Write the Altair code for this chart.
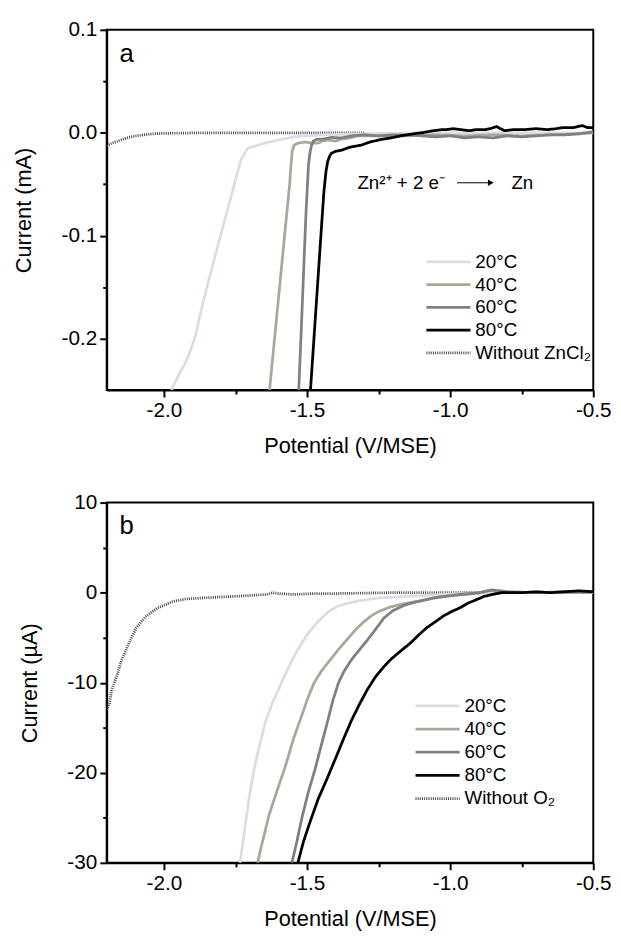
import altair as alt
import pandas as pd

FONT = "Liberation Sans, Arial, Helvetica, sans-serif"

KEYS = ["20°C", "40°C", "60°C", "80°C", "without"]
COLORS = ["#e2d8e6", "#a8a897", "#808080", "#000000", "#444444"]
DASHES = [[1, 0], [1, 0], [1, 0], [1, 0], [1, 1.2]]
WIDTHS = [2.8, 2.8, 2.8, 2.8, 1]
LABELS_A = ["20°C", "40°C", "60°C", "80°C", "Without ZnCl₂"]
LABELS_B = ["20°C", "40°C", "60°C", "80°C", "Without O₂"]

# ---------------- Panel a (mA) ----------------
a_20_x = [-1.974, -1.95, -1.924, -1.905, -1.890, -1.867, -1.85, -1.832, -1.81, -1.79, -1.763, -1.745,
          -1.729, -1.707, -1.67, -1.648, -1.60, -1.545, -1.45, -1.3, -1.1, -0.9, -0.7, -0.5]
a_20_y = [-0.25, -0.236, -0.223, -0.21, -0.197, -0.169, -0.15, -0.131, -0.108, -0.087, -0.06, -0.04,
          -0.025, -0.015, -0.012, -0.010, -0.007, -0.004, -0.002, -0.001, 0.000, 0.000, 0.000, 0.000]

a_40_x = [-1.631, -1.617, -1.603, -1.589, -1.575, -1.561, -1.556, -1.552, -1.545, -1.531, -1.507,
          -1.485, -1.462, -1.445, -1.428, -1.40, -1.379, -1.35, -1.324, -1.25, -1.15, -1.05, -0.95,
          -0.85, -0.75, -0.65, -0.55, -0.5]
a_40_y = [-0.25, -0.21, -0.17, -0.13, -0.09, -0.051, -0.031, -0.018, -0.012, -0.010, -0.009,
          -0.010, -0.010, -0.008, -0.007, -0.008, -0.006, -0.005, -0.003, -0.003, -0.003, -0.002, -0.003,
          -0.002, -0.003, -0.002, -0.001, 0.000]

a_60_x = [-1.529, -1.520, -1.512, -1.504, -1.495, -1.489, -1.484, -1.478, -1.467, -1.44, -1.415,
          -1.38, -1.346, -1.30, -1.25, -1.2, -1.15, -1.1, -1.05, -1.0, -0.95, -0.9, -0.85, -0.8, -0.75,
          -0.7, -0.65, -0.6, -0.55, -0.5]
a_60_y = [-0.25, -0.19, -0.135, -0.08, -0.031, -0.018, -0.012, -0.008, -0.0065, -0.006, -0.0045,
          -0.005, -0.003, -0.002, -0.003, -0.002, -0.002, -0.003, -0.004, -0.003, -0.005, -0.004, -0.005,
          -0.003, -0.004, -0.003, -0.002, -0.002, -0.001, 0.001]

a_80_x = [-1.488, -1.480, -1.472, -1.464, -1.456, -1.448, -1.441, -1.434, -1.428, -1.42, -1.415,
          -1.40, -1.38, -1.35, -1.311, -1.28, -1.242, -1.207, -1.173, -1.128, -1.10, -1.059, -1.03,
          -1.014, -0.99, -0.96, -0.935, -0.91, -0.879, -0.86, -0.838, -0.81, -0.78, -0.741, -0.70,
          -0.66, -0.63, -0.607, -0.57, -0.538, -0.52, -0.5]
a_80_y = [-0.25, -0.217, -0.184, -0.151, -0.118, -0.085, -0.057, -0.038, -0.028, -0.022, -0.020,
          -0.018, -0.017, -0.014, -0.012, -0.009, -0.0065, -0.005, -0.003, -0.001, 0.000, 0.002, 0.003,
          0.003, 0.004, 0.003, 0.002, 0.003, 0.003, 0.004, 0.006, 0.002, 0.003, 0.003, 0.004, 0.003,
          0.004, 0.005, 0.005, 0.007, 0.005, 0.005]

a_wo_x = [-2.2, -2.18, -2.155, -2.13, -2.097, -2.07, -2.039, -2.0, -1.95, -1.9, -1.8, -1.7, -1.6,
          -1.5, -1.4, -1.3]
a_wo_y = [-0.0125, -0.010, -0.0075, -0.005, -0.003, -0.002, -0.001, -0.0006, -0.0003, -0.0002,
          -0.0001, 0.0, 0.0, 0.0, 0.0, 0.0]

# ---------------- Panel b (µA) ----------------
b_20_x = [-1.734, -1.72, -1.703, -1.685, -1.665, -1.645, -1.622, -1.60, -1.58, -1.56, -1.541, -1.52,
          -1.496, -1.47, -1.449, -1.42, -1.393, -1.36, -1.334, -1.30, -1.255, -1.2, -1.139, -1.08,
          -1.024, -0.95, -0.85, -0.75, -0.65, -0.5]
b_20_y = [-30, -26.8, -22.9, -19.6, -16.8, -14.3, -12.3, -10.8, -9.3, -8.0, -6.8, -5.7, -4.5, -3.5,
          -2.8, -2.0, -1.5, -1.2, -1.0, -0.8, -0.6, -0.5, -0.4, -0.3, -0.2, -0.1, 0.0, 0.0, 0.0, 0.0]

b_40_x = [-1.673, -1.656, -1.633, -1.605, -1.576, -1.547, -1.518, -1.495, -1.475, -1.45, -1.42,
          -1.39, -1.36, -1.33, -1.30, -1.277, -1.25, -1.21, -1.173, -1.105, -1.06, -1.024, -0.945,
          -0.9, -0.86, -0.84, -0.75, -0.65, -0.55, -0.5]
b_40_y = [-30, -27.7, -24.7, -22.0, -19.3, -16.2, -13.6, -11.5, -10.0, -8.7, -7.5, -6.3, -5.2, -4.1,
          -3.2, -2.6, -2.1, -1.6, -1.3, -0.9, -0.6, -0.4, -0.2, -0.05, 0.3, 0.1, 0.0, 0.0, 0.0, 0.0]

b_60_x = [-1.553, -1.536, -1.518, -1.496, -1.472, -1.449, -1.43, -1.41, -1.39, -1.372, -1.35,
          -1.334, -1.30, -1.266, -1.231, -1.20, -1.16, -1.128, -1.059, -0.967, -0.898, -0.852, -0.8,
          -0.7, -0.6, -0.5]
b_60_y = [-30, -27.7, -25.0, -22.2, -19.6, -16.8, -14.5, -12.0, -10.0, -8.8, -7.7, -7.0, -5.7, -4.3,
          -2.8, -2.0, -1.4, -1.1, -0.6, -0.2, 0.0, 0.3, 0.1, 0.0, 0.1, 0.1]

b_80_x = [-1.532, -1.513, -1.49, -1.461, -1.432, -1.403, -1.372, -1.345, -1.317, -1.29, -1.262,
          -1.234, -1.207, -1.17, -1.139, -1.11, -1.082, -1.05, -1.024, -0.995, -0.967, -0.94, -0.91,
          -0.88, -0.852, -0.82, -0.75, -0.7, -0.65, -0.6, -0.55, -0.5]
b_80_y = [-30, -27.7, -25.5, -22.9, -20.8, -18.6, -16.2, -14.2, -12.4, -10.8, -9.4, -8.3, -7.4, -6.4,
          -5.6, -4.7, -3.9, -3.2, -2.6, -2.1, -1.7, -1.2, -0.8, -0.4, -0.2, 0.0, 0.0, 0.1, 0.0, 0.1,
          0.2, 0.1]

b_wo_x = [-2.2, -2.19, -2.183, -2.166, -2.148, -2.125, -2.097, -2.062, -2.022, -1.97, -1.924, -1.87,
          -1.81, -1.75, -1.694, -1.64, -1.62, -1.60, -1.55, -1.476, -1.4, -1.3, -1.2, -1.1, -1.0,
          -0.9, -0.85]
b_wo_y = [-13.0, -12.3, -10.8, -9.4, -7.5, -5.8, -3.9, -2.6, -1.7, -1.0, -0.7, -0.6, -0.5, -0.4,
          -0.3, -0.2, 0.0, -0.1, -0.2, -0.1, -0.1, -0.05, 0.0, 0.0, 0.0, 0.0, 0.0]

X_DOMAIN = [-2.2, -0.5]
YA_DOMAIN = [-0.25, 0.1]
YB_DOMAIN = [-30, 10]
X_TICKS = [-2.0, -1.75, -1.5, -1.25, -1.0, -0.75, -0.5]
YA_TICKS = [-0.2, -0.15, -0.1, -0.05, 0.0, 0.05, 0.1]
YB_TICKS = [-30, -25, -20, -15, -10, -5, 0, 5, 10]

color_scale = alt.Scale(domain=KEYS, range=COLORS)
dash_scale = alt.Scale(domain=KEYS, range=DASHES)
width_scale = alt.Scale(domain=KEYS, range=WIDTHS)

MINUS_FIX = "replace(format(datum.value, '.1f'), '\u2212', '-')"
MAJ_X = "abs(datum.value*2 - round(datum.value*2)) < 0.001"
MAJ_YA = "abs(datum.value*10 - round(datum.value*10)) < 0.001"
MAJ_YB = "datum.value % 10 == 0"


def x_enc():
    return alt.X("V:Q", title="Potential (V/MSE)",
                 scale=alt.Scale(domain=X_DOMAIN, nice=False, zero=False),
                 axis=alt.Axis(values=X_TICKS, labelExpr=f"{MAJ_X} ? {MINUS_FIX} : ''",
                               tickSize={"condition": {"test": MAJ_X, "value": 7}, "value": 4},
                               labelOverlap=False, labelFlush=False, titlePadding=15,
                               labelPadding=3))


def y_enc(domain, ticks, major, label_expr, title):
    return alt.Y("I:Q", title=title,
                 scale=alt.Scale(domain=domain, nice=False, zero=False),
                 axis=alt.Axis(values=ticks, labelExpr=label_expr,
                               tickSize={"condition": {"test": major, "value": 7}, "value": 4},
                               labelOverlap=False, titlePadding=26, labelPadding=3))


def panel(series, labels, ydom, yticks, ymajor, ylabel, ytitle, legend_x, legend_y0, legend_dy,
          letter, letter_pos, extra=None):
    layers = []
    order = [4, 0, 1, 2, 3]
    for idx in order:
        xs, ys = series[idx]
        df = pd.DataFrame({"V": xs, "I": ys, "s": KEYS[idx]})
        layers.append(
            alt.Chart(df).mark_line(clip=True, strokeJoin="round", strokeCap="butt").encode(
                x=x_enc(),
                y=y_enc(ydom, yticks, ymajor, ylabel, ytitle),
                color=alt.Color("s:N", scale=color_scale, legend=None),
                strokeDash=alt.StrokeDash("s:N", scale=dash_scale, legend=None),
                strokeWidth=alt.StrokeWidth("s:N", scale=width_scale, legend=None),
            )
        )
    # legend (drawn in data space)
    lx0, lx1, ltx = legend_x
    leg = pd.DataFrame({
        "s": KEYS,
        "label": labels,
        "x1": [lx0] * 5,
        "x2": [lx1] * 5,
        "xt": [ltx] * 5,
        "y": [legend_y0 + i * legend_dy for i in range(5)],
    })
    layers.append(alt.Chart(leg).mark_rule().encode(
        x="x1:Q", x2="x2:Q", y="y:Q",
        color=alt.Color("s:N", scale=color_scale, legend=None),
        strokeDash=alt.StrokeDash("s:N", scale=dash_scale, legend=None),
        strokeWidth=alt.StrokeWidth("s:N", scale=alt.Scale(domain=KEYS, range=[3, 3, 3, 3, 1]),
                                    legend=None),
    ))
    layers.append(alt.Chart(leg).mark_text(align="left", baseline="middle", fontSize=19,
                                           font=FONT, color="black").encode(
        x="xt:Q", y="y:Q", text="label:N"))
    lt = pd.DataFrame({"x": [letter_pos[0]], "y": [letter_pos[1]], "t": [letter]})
    layers.append(alt.Chart(lt).mark_text(align="left", baseline="middle", fontSize=26,
                                          font=FONT, color="black").encode(
        x="x:Q", y="y:Q", text="t:N"))
    if extra:
        layers.extend(extra)
    return alt.layer(*layers).properties(width=493, height=365)


# annotation for panel a
ann_y = -0.0486
ann_txt = pd.DataFrame({"x": [-1.324, -0.786], "y": [ann_y, ann_y], "t": ["Zn²⁺ + 2 e⁻", "Zn"]})
ann_arrow = pd.DataFrame({"x": [-0.976], "x2": [-0.862], "y": [ann_y]})
ann_head = pd.DataFrame({"x": [-0.858], "y": [ann_y]})
extra_a = [
    alt.Chart(ann_txt).mark_text(align="left", baseline="middle", fontSize=19, font=FONT,
                                 color="black").encode(x="x:Q", y="y:Q", text="t:N"),
    alt.Chart(ann_arrow).mark_rule(color="black", strokeWidth=1).encode(x="x:Q", x2="x2:Q", y="y:Q"),
    alt.Chart(ann_head).mark_point(shape="triangle-right", filled=True, color="black", size=45,
                                   opacity=1).encode(x="x:Q", y="y:Q"),
]

panel_a = panel(
    [(a_20_x, a_20_y), (a_40_x, a_40_y), (a_60_x, a_60_y), (a_80_x, a_80_y), (a_wo_x, a_wo_y)],
    LABELS_A, YA_DOMAIN, YA_TICKS, MAJ_YA, f"{MAJ_YA} ? {MINUS_FIX} : ''", "Current (mA)",
    (-1.083, -0.929, -0.912), -0.1254, -0.0221, "a", (-2.155, 0.076), extra_a)

panel_b = panel(
    [(b_20_x, b_20_y), (b_40_x, b_40_y), (b_60_x, b_60_y), (b_80_x, b_80_y), (b_wo_x, b_wo_y)],
    LABELS_B, YB_DOMAIN, YB_TICKS, MAJ_YB, f"{MAJ_YB} ? '' + datum.value : ''", "Current (µA)",
    (-1.121, -0.967, -0.950), -12.58, -2.57, "b", (-2.155, 7.4))

chart = alt.vconcat(panel_a, panel_b, spacing=34).properties(
    padding={"left": 3, "top": 4, "right": 0, "bottom": 0}
).configure_view(
    stroke="black", strokeWidth=2
).configure_axis(
    domainColor="black", domainWidth=2, tickColor="black", tickWidth=2,
    labelFont=FONT, titleFont=FONT, labelFontSize=21, titleFontSize=22,
    titleFontWeight="normal", labelColor="black", titleColor="black", grid=False
)

chart.save("out.html", embed_options={"renderer": "svg", "actions": False})
